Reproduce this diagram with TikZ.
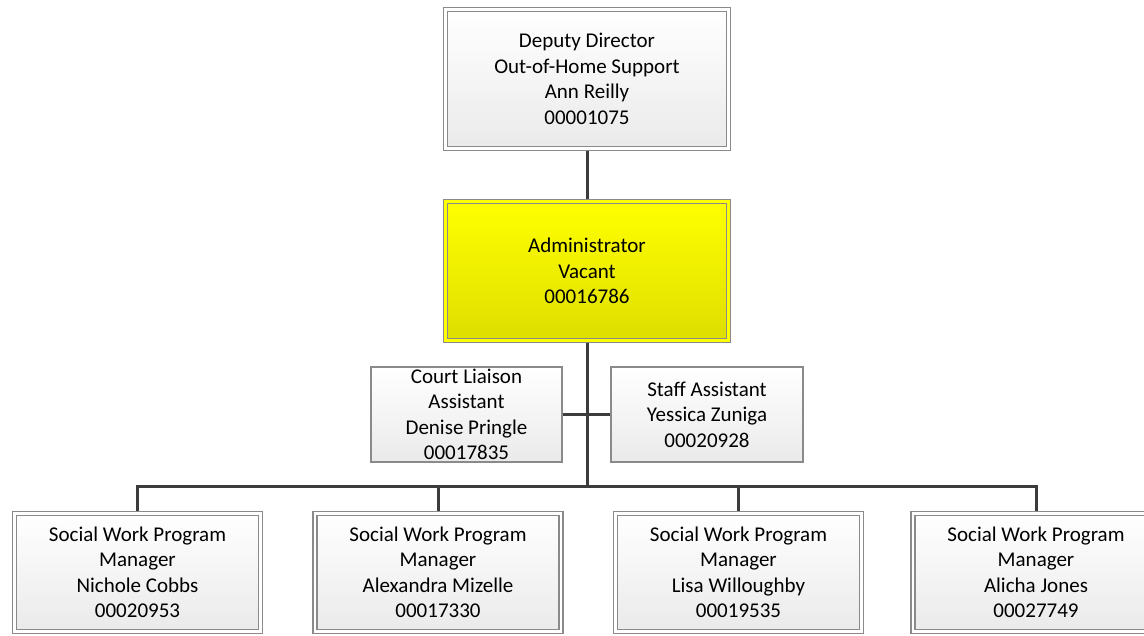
\documentclass[tikz,border=0pt]{standalone}
\usepackage{fontspec}
\setmainfont{Carlito}
\usetikzlibrary{backgrounds}

\definecolor{boxline}{HTML}{8A8A8A}
\definecolor{linkline}{HTML}{3C3C3C}
\definecolor{paleshade}{HTML}{EAEAEA}
\definecolor{hiyellow}{HTML}{FFFF00}
\definecolor{loyellow}{HTML}{DEDE00}

\tikzset{
  base/.style={rectangle, align=center, inner sep=0pt, text=black,
    font=\fontsize{21}{25.5}\selectfont},
  framed/.style={base, draw=boxline, line width=1.2pt,
    double=white, double distance=2.8pt,
    top color=white, bottom color=paleshade},
  plainbox/.style={base, draw=boxline, line width=1.3pt,
    top color=white, bottom color=paleshade},
  vacantbox/.style={base, draw=boxline, line width=1.2pt,
    double=hiyellow, double distance=2.8pt,
    top color=hiyellow, bottom color=loyellow},
  bigbox/.style={minimum width=283pt, minimum height=139pt},
  mgrbox/.style={framed, minimum width=246pt, minimum height=118pt},
  link/.style={draw=linkline, line width=3pt}
}

\begin{document}
\begin{tikzpicture}[x=1pt, y=-1pt]
  \useasboundingbox (0,0) rectangle (1144,635);
  \clip (0,0) rectangle (1144,635);

  % top of the chain
  \node[framed, bigbox] (dep) at (587,79)
    {Deputy Director\\Out-of-Home Support\\Ann Reilly\\00001075};
  \node[vacantbox, bigbox] (adm) at (587,271)
    {Administrator\\Vacant\\00016786};

  % assistants
  \node[plainbox, minimum width=191pt, minimum height=95pt] (cla) at (466.5,414.5)
    {Court Liaison\\Assistant\\Denise Pringle\\00017835};
  \node[plainbox, minimum width=192pt, minimum height=95pt] (sta) at (707,414.5)
    {Staff Assistant\\Yessica Zuniga\\00020928};

  % program managers
  \node[mgrbox] (m1) at (137.5,572.5)
    {Social Work Program\\Manager\\Nichole Cobbs\\00020953};
  \node[mgrbox] (m2) at (438,572.5)
    {Social Work Program\\Manager\\Alexandra Mizelle\\00017330};
  \node[mgrbox] (m3) at (738.5,572.5)
    {Social Work Program\\Manager\\Lisa Willoughby\\00019535};
  \node[mgrbox] (m4) at (1036,572.5)
    {Social Work Program\\Manager\\Alicha Jones\\00027749};

  \coordinate (bus) at (587,486);

  \begin{scope}[on background layer]
    \draw[link] (dep.south) -- (adm.north);
    \draw[link] (adm.south) -- (bus);
    \draw[link] (cla.east) -- (sta.west);
    \draw[link] (m1.north) |- (bus) -| (m4.north);
    \draw[link] (m2.north) -- (m2.north |- bus);
    \draw[link] (m3.north) -- (m3.north |- bus);
  \end{scope}
\end{tikzpicture}
\end{document}
